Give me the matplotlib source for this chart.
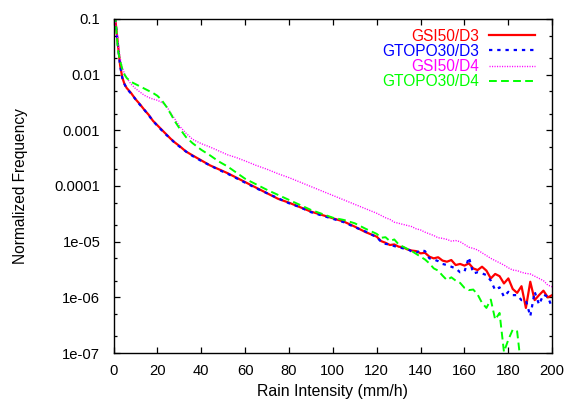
import matplotlib
matplotlib.use("Agg")
import matplotlib.pyplot as plt
import numpy as np
from matplotlib.ticker import LogLocator, FixedLocator, NullFormatter, FixedFormatter

plt.rcParams['font.family'] = ['Liberation Sans', 'DejaVu Sans']

# Rain intensity (mm/h)
rain = [0, 1, 2, 3, 4, 5, 6, 8, 10, 12, 14, 16, 18, 20, 22, 24, 26, 28, 30, 33, 36,
        40, 44, 48, 52, 56, 60, 65, 70, 75, 80, 85, 90, 95, 100, 105, 110, 115, 120,
        122, 124, 126, 128, 130, 132, 134, 136, 138, 140, 142, 144, 146, 148, 150,
        152, 154, 156, 158, 160, 162, 164, 166, 168, 170, 172, 174, 176, 178, 180,
        182, 184, 186, 188, 190, 192, 194, 196, 198, 200]

# log10 of normalized frequency
gsi50_d3_log10 = [-0.70, -1.07, -1.45, -1.83, -2.05, -2.17, -2.24, -2.33, -2.44, -2.53, -2.63,
                  -2.72, -2.83, -2.91, -2.99, -3.07, -3.15, -3.22, -3.28, -3.38, -3.45,
                  -3.54, -3.63, -3.70, -3.77, -3.85, -3.93, -4.03, -4.13, -4.23, -4.30,
                  -4.38, -4.46, -4.52, -4.58, -4.64, -4.73, -4.83, -4.91,
                  -4.99, -5.02, -5.06, -5.05, -5.09, -5.10, -5.14, -5.16, -5.17, -5.21,
                  -5.20, -5.27, -5.30, -5.28, -5.34, -5.36, -5.33, -5.42, -5.40, -5.43,
                  -5.39, -5.48, -5.51, -5.45, -5.52, -5.66, -5.58, -5.62, -5.75, -5.66,
                  -5.85, -5.92, -5.80, -6.19, -5.72, -6.05, -5.96, -5.88, -6.00, -5.96]

gtopo30_d3_log10 = [-0.70, -1.08, -1.46, -1.84, -2.06, -2.17, -2.25, -2.34, -2.44, -2.54, -2.63,
                    -2.73, -2.83, -2.92, -3.00, -3.08, -3.15, -3.23, -3.29, -3.38, -3.46,
                    -3.55, -3.63, -3.71, -3.78, -3.86, -3.94, -4.04, -4.13, -4.22, -4.31,
                    -4.38, -4.47, -4.53, -4.59, -4.65, -4.74, -4.82, -4.92,
                    -5.00, -5.04, -5.05, -5.08, -5.10, -5.12, -5.13, -5.18, -5.20, -5.15,
                    -5.17, -5.30, -5.32, -5.35, -5.40, -5.42, -5.45, -5.48, -5.55, -5.54,
                    -5.28, -5.57, -5.55, -5.57, -5.60, -5.70, -5.87, -5.82, -5.99, -5.90,
                    -5.96, -5.96, -6.05, -6.05, -6.34, -5.90, -6.13, -5.95, -5.99, -6.19]

gsi50_d4_log10 = [-0.70, -1.10, -1.40, -1.70, -1.88, -1.98, -2.06, -2.17, -2.25, -2.31, -2.37,
                  -2.41, -2.44, -2.46, -2.50, -2.56, -2.68, -2.80, -2.92, -3.05, -3.16,
                  -3.24, -3.30, -3.37, -3.44, -3.49, -3.55, -3.63, -3.70, -3.78, -3.85,
                  -3.93, -4.01, -4.09, -4.17, -4.25, -4.33, -4.41, -4.49,
                  -4.53, -4.57, -4.60, -4.65, -4.67, -4.69, -4.71, -4.73, -4.77, -4.79,
                  -4.83, -4.86, -4.89, -4.93, -4.94, -4.96, -4.99, -4.98, -5.00, -5.05,
                  -5.10, -5.12, -5.15, -5.20, -5.25, -5.30, -5.34, -5.38, -5.42, -5.47,
                  -5.51, -5.52, -5.55, -5.57, -5.58, -5.62, -5.66, -5.70, -5.78, -5.81]

gtopo30_d4_log10 = [-0.70, -1.05, -1.55, -1.75, -1.90, -2.00, -2.06, -2.13, -2.17, -2.21, -2.25,
                    -2.29, -2.33, -2.38, -2.46, -2.57, -2.70, -2.84, -2.96, -3.12, -3.23,
                    -3.35, -3.45, -3.56, -3.65, -3.76, -3.87, -3.97, -4.07, -4.16, -4.25,
                    -4.34, -4.43, -4.50, -4.57, -4.61, -4.67, -4.77, -4.86,
                    -4.93, -4.92, -4.99, -4.96, -5.05, -5.09, -5.13, -5.17, -5.22, -5.27,
                    -5.32, -5.39, -5.48, -5.52, -5.61, -5.69, -5.64, -5.70, -5.74, -5.83,
                    -5.87, -5.86, -5.95, -6.10, -6.19, -6.04, -6.40, -6.28, -6.98, -6.76,
                    -6.58, -6.61, -7.30]

labels = ["GSI50/D3", "GTOPO30/D3", "GSI50/D4", "GTOPO30/D4"]
colors = ["#ff0000", "#0000ff", "#ff00ff", "#00ff00"]

fig = plt.figure(figsize=(5.69, 4.03), dpi=100)
ax = fig.add_axes([0.1995, 0.124, 0.771, 0.829])

series = [gsi50_d3_log10, gtopo30_d3_log10, gsi50_d4_log10, gtopo30_d4_log10]
styles = [dict(ls="-", lw=1.6),
          dict(ls=(0, (1.5, 2.2)), lw=1.6),
          dict(ls=(0, (0.8, 1.0)), lw=1.0),
          dict(ls=(0, (4, 2.2)), lw=1.4)]
for lab, col, ys, st in zip(labels, colors, series, styles):
    n = len(ys)
    ax.plot(rain[:n], np.power(10.0, ys), color=col, label=lab, **st)

ax.set_yscale("log")
ax.set_xlim(0, 200)
ax.set_ylim(1e-7, 0.1)

ax.xaxis.set_major_locator(FixedLocator([0, 20, 40, 60, 80, 100, 120, 140, 160, 180, 200]))
ytick_vals = [1e-7, 1e-6, 1e-5, 1e-4, 1e-3, 1e-2, 1e-1]
ytick_labs = ["1e-07", "1e-06", "1e-05", "0.0001", "0.001", "0.01", "0.1"]
ax.yaxis.set_major_locator(FixedLocator(ytick_vals))
ax.yaxis.set_major_formatter(FixedFormatter(ytick_labs))
ax.yaxis.set_minor_locator(LogLocator(base=10, subs=(2.0, 5.0)))
ax.yaxis.set_minor_formatter(NullFormatter())

ax.tick_params(which="both", direction="in", top=True, right=True, colors="black",
               labelsize=10.6)
ax.tick_params(which="major", length=4.3, width=0.9)
ax.tick_params(which="minor", length=2.2, width=0.9)
ax.tick_params(axis="y", pad=9.5)
ax.tick_params(axis="x", pad=8)
for sp in ax.spines.values():
    sp.set_linewidth(1.0)

ax.set_xlabel("Rain Intensity (mm/h)", fontsize=11.4, labelpad=4.5)
ax.set_ylabel("Normalized Frequency", fontsize=11.2, labelpad=19)

leg = ax.legend(loc="upper right", markerfirst=False, frameon=False, fontsize=11.2,
                handlelength=2.95, handletextpad=0.6, labelspacing=0.02,
                borderaxespad=0.0, bbox_to_anchor=(0.974, 0.99))
for txt, col in zip(leg.get_texts(), colors):
    txt.set_color(col)

fig.savefig("out.png", dpi=100)
